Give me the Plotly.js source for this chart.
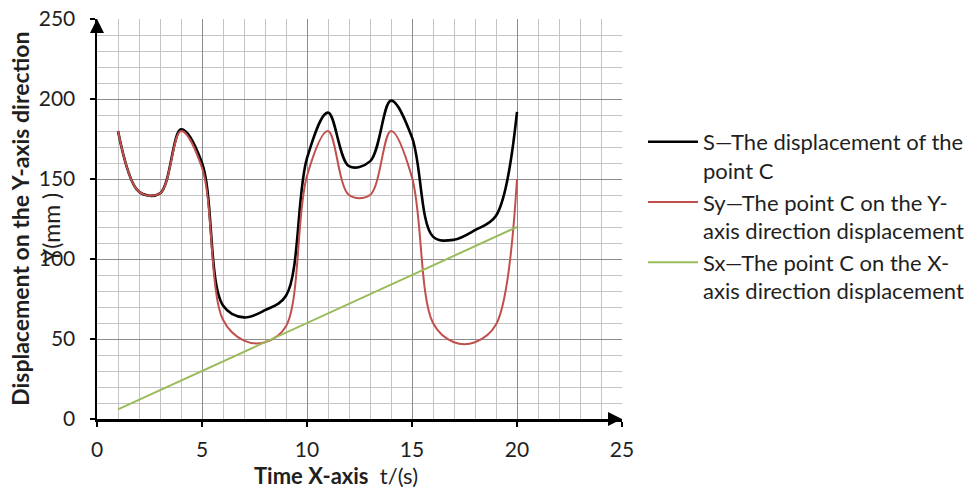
<!DOCTYPE html>
<html>
<head>
<meta charset="utf-8">
<script src="https://cdn.plot.ly/plotly-3.0.1.min.js"></script>
<style>html,body{margin:0;padding:0;background:#fff;}#chart{width:966px;height:488px;}</style>
</head>
<body>
<div id="chart"></div>
<script>
// ---- data ----
const sNames = ["S—The displacement of the<br>point C",
                "Sy—The point C on the Y-<br>axis direction displacement",
                "Sx—The point C on the X-<br>axis direction displacement"];
const timeS  = [1, 2, 3, 4, 5, 6, 7, 8, 9, 10, 11, 12, 13, 14, 15, 16, 17, 18, 19, 20];
const sVal   = [180, 142, 141, 181, 160, 71, 63.5, 68, 77, 163, 191.5, 158, 161, 199, 176, 114, 112, 118, 127, 192];
const syVal  = [180, 142, 141, 180, 157, 62, 49, 48, 58, 152, 180, 140, 140, 180, 151, 60, 48, 48, 59, 150];
const sxVal  = [6, 12, 18, 24, 30, 36, 42, 48, 54, 60, 66, 72, 78, 84, 90, 96, 102, 108, 114, 120];
const axisEnds = {x: [0, 25], y: [250, 0]};
const xTitleBold = "Time X-axis";
const xTitleRest = "t/(s)";
const yTitleMain = "Displacement on the Y-axis direction";
const yTitleSub  = "Y(mm )";

const FONT = "Lato, 'Open Sans', sans-serif";

const traces = [
  {x: timeS, y: sVal, name: sNames[0], mode: 'lines',
   line: {color: '#000000', width: 2.6, shape: 'spline', smoothing: 1}},
  {x: timeS, y: syVal, name: sNames[1], mode: 'lines',
   line: {color: '#C0504D', width: 2, shape: 'spline', smoothing: 1}},
  {x: timeS, y: sxVal, name: sNames[2], mode: 'lines',
   line: {color: '#9BBB59', width: 2, shape: 'linear'}},
  // axis arrow heads
  {x: axisEnds.x, y: axisEnds.y, mode: 'markers', showlegend: false, hoverinfo: 'skip',
   cliponaxis: false,
   marker: {symbol: ['arrow-up', 'arrow-right'], size: 14, color: '#000', line: {width: 0}}}
];

const axisCommon = {
  showline: true, linecolor: '#000', linewidth: 2.5,
  ticks: 'outside', ticklen: 5, tickwidth: 2, tickcolor: '#000',
  showgrid: true, gridcolor: '#8c8c8c', gridwidth: 1,
  zeroline: false, fixedrange: true,
  tickfont: {family: FONT, size: 21, color: '#1f1f1f'}
};

const layout = {
  width: 966, height: 488,
  margin: {l: 97, r: 344, t: 19, b: 69, autoexpand: false},
  paper_bgcolor: '#ffffff', plot_bgcolor: '#ffffff',
  showlegend: true,
  legend: {x: 1.04, xanchor: 'left', y: 0.745, yanchor: 'top', valign: 'top',
           font: {family: FONT, size: 22, color: '#1f1f1f'},
           bgcolor: 'rgba(0,0,0,0)', itemwidth: 50},
  xaxis: Object.assign({}, axisCommon, {
    range: [0, 25], tickmode: 'linear', tick0: 0, dtick: 5, ticklabelstandoff: 5,
    minor: {tick0: 0, dtick: 1, showgrid: true, gridcolor: '#c4c4c4', gridwidth: 1, ticks: ''}
  }),
  yaxis: Object.assign({}, axisCommon, {
    range: [0, 250], tickmode: 'linear', tick0: 0, dtick: 50, ticklabelstandoff: 10,
    minor: {tick0: 0, dtick: 10, showgrid: true, gridcolor: '#c4c4c4', gridwidth: 1, ticks: ''}
  }),
  annotations: [
    {xref: 'paper', yref: 'paper', x: -0.147, y: 0.5, xanchor: 'center', yanchor: 'middle',
     textangle: -90, showarrow: false,
     text: '<b>' + yTitleMain + '</b>', font: {family: FONT, size: 23, color: '#1f1f1f'}},
    {xref: 'paper', yref: 'paper', x: -0.088, y: 0.477, xanchor: 'center', yanchor: 'middle',
     textangle: -90, showarrow: false,
     text: yTitleSub, font: {family: FONT, size: 23, color: '#1f1f1f'}},
    {xref: 'paper', yref: 'paper', x: 0.456, y: -0.142, xanchor: 'center', yanchor: 'middle',
     showarrow: false,
     text: '<b>' + xTitleBold + '</b>  ' + xTitleRest, font: {family: FONT, size: 22, color: '#1f1f1f'}}
  ]
};

Plotly.newPlot('chart', traces, layout, {displayModeBar: false, staticPlot: true});
</script>
</body>
</html>
